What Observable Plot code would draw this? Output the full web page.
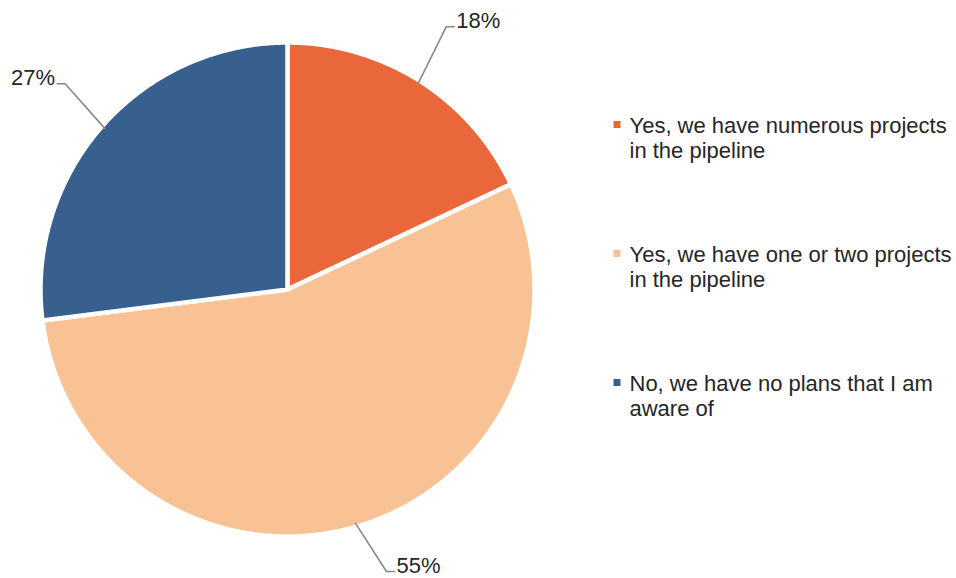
<!DOCTYPE html>
<html>
<head>
<meta charset="utf-8">
<script src="https://cdn.jsdelivr.net/npm/d3@7"></script>
<script src="https://cdn.jsdelivr.net/npm/@observablehq/plot@0.6"></script>
<style>
  html, body { margin: 0; padding: 0; background: #fff; }
</style>
</head>
<body>
<div id="chart"></div>
<script>
// ---- data ----
const categories = [
  "Yes, we have numerous projects in the pipeline",
  "Yes, we have one or two projects in the pipeline",
  "No, we have no plans that I am aware of"
];
const shares = [18, 55, 27];
const percentLabels = ["18%", "55%", "27%"];
const colors = ["#E9673B", "#F8C294", "#37608F"];

// ---- layout (pixels) ----
const W = 956, H = 578;
const cx = 287, cy = 289, R = 247;   // pie centre and radius in pixels
const font = "'Liberation Sans', Arial, Helvetica, sans-serif";
const fontSize = 22;

// word wrap measured with the real font
const ctx = document.createElement("canvas").getContext("2d");
ctx.font = `${fontSize}px ${font}`;
function wrap(text, maxPx) {
  const words = text.split(" ");
  const lines = [];
  let line = "";
  for (const w of words) {
    const test = line ? line + " " + w : w;
    if (line && ctx.measureText(test).width > maxPx) { lines.push(line); line = w; }
    else line = test;
  }
  if (line) lines.push(line);
  return lines.join("\n");
}

// unit coordinates: radius = 1, origin at the pie centre
const xDomain = [-cx / R, (W - cx) / R];
const yDomain = [-(H - cy) / R, cy / R];

const total = d3.sum(shares);
let acc = 0;
const slices = categories.map((cat, i) => {
  const a0 = (acc / total) * 2 * Math.PI;
  acc += shares[i];
  const a1 = (acc / total) * 2 * Math.PI;
  return {cat, a0, a1, mid: (a0 + a1) / 2, label: percentLabels[i]};
});

// polygon points for each slice
const slicePts = [];
for (const s of slices) {
  slicePts.push({cat: s.cat, x: 0, y: 0});
  const n = Math.ceil((s.a1 - s.a0) / (Math.PI / 360));
  for (let k = 0; k <= n; ++k) {
    const a = s.a0 + (s.a1 - s.a0) * k / n;
    slicePts.push({cat: s.cat, x: Math.sin(a), y: Math.cos(a)});
  }
}

// leader lines and label anchors
const leaderPts = [];
const labelPts = [];
const yLimit = 282 / R;
for (const s of slices) {
  const sx = Math.sin(s.mid), sy = Math.cos(s.mid);
  const dir = sx >= 0 ? 1 : -1;
  let ey = sy * 1.26;
  let ex = sx * 1.2;
  if (Math.abs(ey) > yLimit) {
    ey = Math.sign(ey) * yLimit;
    ex = dir * Math.max(Math.abs(ex), Math.sqrt(Math.max(0, 1.21 * 1.21 - ey * ey)));
  }
  const hx = ex + dir * 8 / R;
  leaderPts.push({cat: s.cat, x: sx * 0.985, y: sy * 0.985});
  leaderPts.push({cat: s.cat, x: ex, y: ey});
  leaderPts.push({cat: s.cat, x: hx, y: ey});
  labelPts.push({label: s.label, x: hx + dir * 2 / R, y: ey - 1 / R, anchor: dir > 0 ? "start" : "end"});
}

// legend
const legendTopPx = 113.6, legendStepPx = 129;
const legendData = categories.map((cat, i) => ({
  cat,
  text: wrap(cat, 325),
  ty: (cy - (legendTopPx + i * legendStepPx)) / R,
  sy: (cy - (legendTopPx + i * legendStepPx + 10.4)) / R
}));
const legendSquareX = (616.5 - cx) / R;
const legendTextX = (629 - cx) / R;

const chart = Plot.plot({
  width: W,
  height: H,
  margin: 0,
  x: {domain: xDomain, axis: null},
  y: {domain: yDomain, axis: null},
  color: {domain: categories, range: colors},
  style: {fontFamily: font, background: "#fff"},
  marks: [
    Plot.line(slicePts, {
      x: "x", y: "y", z: "cat", fill: "cat",
      stroke: "white", strokeWidth: 4.5, strokeLinejoin: "round",
      curve: "linear-closed"
    }),
    Plot.line(leaderPts, {
      x: "x", y: "y", z: "cat",
      stroke: "#8a8a8a", strokeWidth: 1.6
    }),
    Plot.text(labelPts.filter(d => d.anchor === "start"), {
      x: "x", y: "y", text: "label", textAnchor: "start", lineAnchor: "bottom",
      fontSize, fill: "#262626", fontFamily: font
    }),
    Plot.text(labelPts.filter(d => d.anchor === "end"), {
      x: "x", y: "y", text: "label", textAnchor: "end", lineAnchor: "bottom",
      fontSize, fill: "#262626", fontFamily: font
    }),
    Plot.dot(legendData, {
      x: () => legendSquareX, y: "sy", fill: "cat", symbol: "square", r: 3.95, stroke: null
    }),
    Plot.text(legendData, {
      x: () => legendTextX, y: "ty", text: "text", textAnchor: "start", lineAnchor: "top",
      lineHeight: 1.18, fontSize, fill: "#262626", fontFamily: font
    })
  ]
});
document.getElementById("chart").appendChild(chart);
</script>
</body>
</html>
